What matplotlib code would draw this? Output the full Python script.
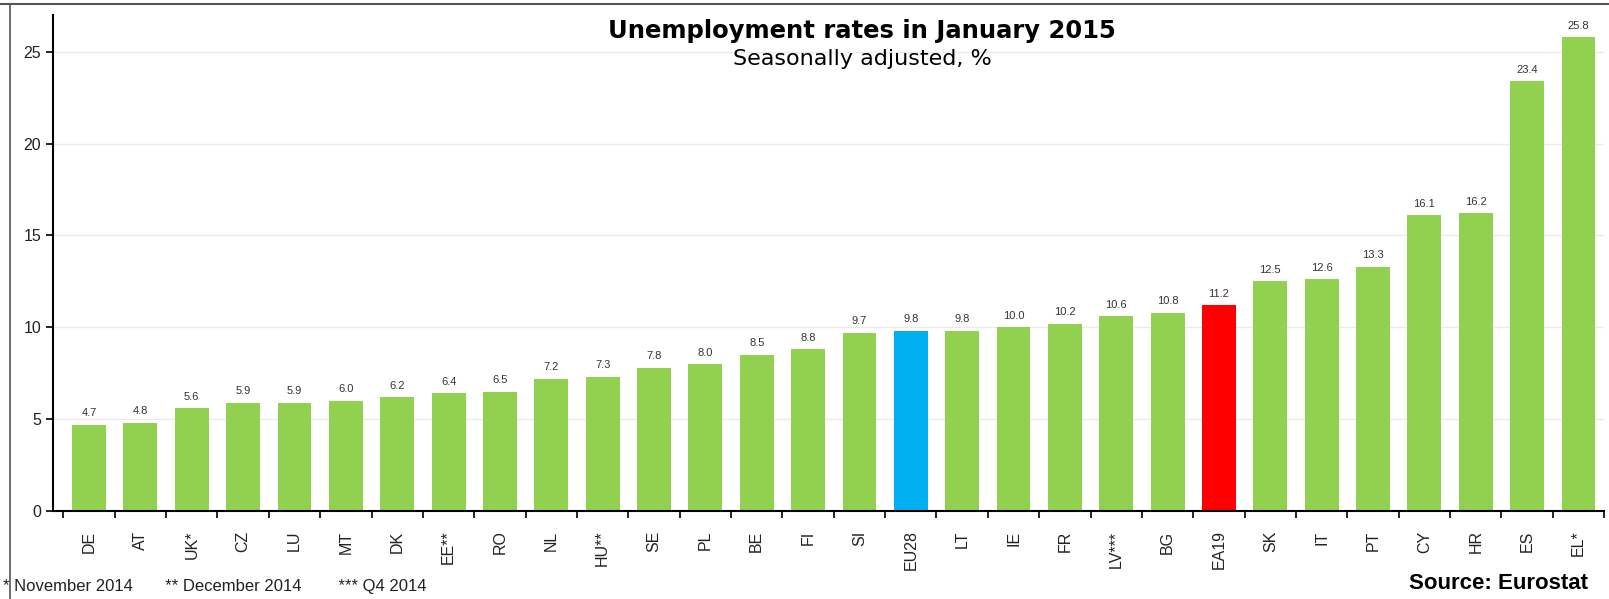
import matplotlib.pyplot as plt
from matplotlib.lines import Line2D

plt.rcParams['font.family'] = ['Liberation Sans', 'DejaVu Sans']

countries = ['DE', 'AT', 'UK*', 'CZ', 'LU', 'MT', 'DK', 'EE**', 'RO', 'NL',
             'HU**', 'SE', 'PL', 'BE', 'FI', 'SI', 'EU28', 'LT', 'IE', 'FR',
             'LV***', 'BG', 'EA19', 'SK', 'IT', 'PT', 'CY', 'HR', 'ES', 'EL*']
rates = [4.7, 4.8, 5.6, 5.9, 5.9, 6.0, 6.2, 6.4, 6.5, 7.2,
         7.3, 7.8, 8.0, 8.5, 8.8, 9.7, 9.8, 9.8, 10.0, 10.2,
         10.6, 10.8, 11.2, 12.5, 12.6, 13.3, 16.1, 16.2, 23.4, 25.8]

colors = []
for c in countries:
    if c == 'EU28':
        colors.append('#00B0F0')
    elif c == 'EA19':
        colors.append('#FF0000')
    else:
        colors.append('#92D050')

fig = plt.figure(figsize=(16.09, 5.99), dpi=100)
ax = fig.add_axes([0.033, 0.147, 0.964, 0.828])

x = range(len(countries))
ax.bar(x, rates, width=0.66, color=colors, zorder=2)

for i, v in enumerate(rates):
    ax.text(i, v + 0.35, '%.1f' % v, ha='center', va='bottom', fontsize=8, color='#333333')

ax.set_xlim(-0.7, 29.5)
ax.set_ylim(0, 27)
ax.set_yticks([0, 5, 10, 15, 20, 25])
ax.yaxis.grid(True, color='#ebebeb', linewidth=1, zorder=0)

ax.set_xticks(list(x))
ax.set_xticklabels(countries, rotation=90, fontsize=11.5, color='#222222')
ax.set_xticks([i + 0.5 for i in range(-1, len(countries))], minor=True)
ax.tick_params(axis='x', which='major', length=0, pad=14)
ax.tick_params(axis='x', which='minor', length=5, width=1.2, direction='out')
ax.tick_params(axis='y', labelsize=11.5, length=5, width=1.2, labelcolor='#222222')

ax.spines['top'].set_visible(False)
ax.spines['right'].set_visible(False)
ax.spines['left'].set_linewidth(1.5)
ax.spines['bottom'].set_linewidth(1.5)

fig.text(0.536, 0.968, 'Unemployment rates in January 2015', ha='center', va='top',
         fontsize=17.5, fontweight='bold', family='DejaVu Sans')
fig.text(0.536, 0.918, 'Seasonally adjusted, %', ha='center', va='top',
         fontsize=16, family='DejaVu Sans')

fig.text(0.002, 0.008, '* November 2014       ** December 2014        *** Q4 2014',
         ha='left', va='bottom', fontsize=12, color='#222222')
fig.text(0.987, 0.008, 'Source: Eurostat', ha='right', va='bottom',
         fontsize=16, fontweight='bold')

# frame lines at top and left (cropped screenshot look)
fig.add_artist(Line2D([0, 1], [0.994, 0.994], transform=fig.transFigure, color='#555555', lw=1.5))
fig.add_artist(Line2D([0.006, 0.006], [0, 0.994], transform=fig.transFigure, color='#555555', lw=1.2))

fig.savefig('out.png', dpi=100)
